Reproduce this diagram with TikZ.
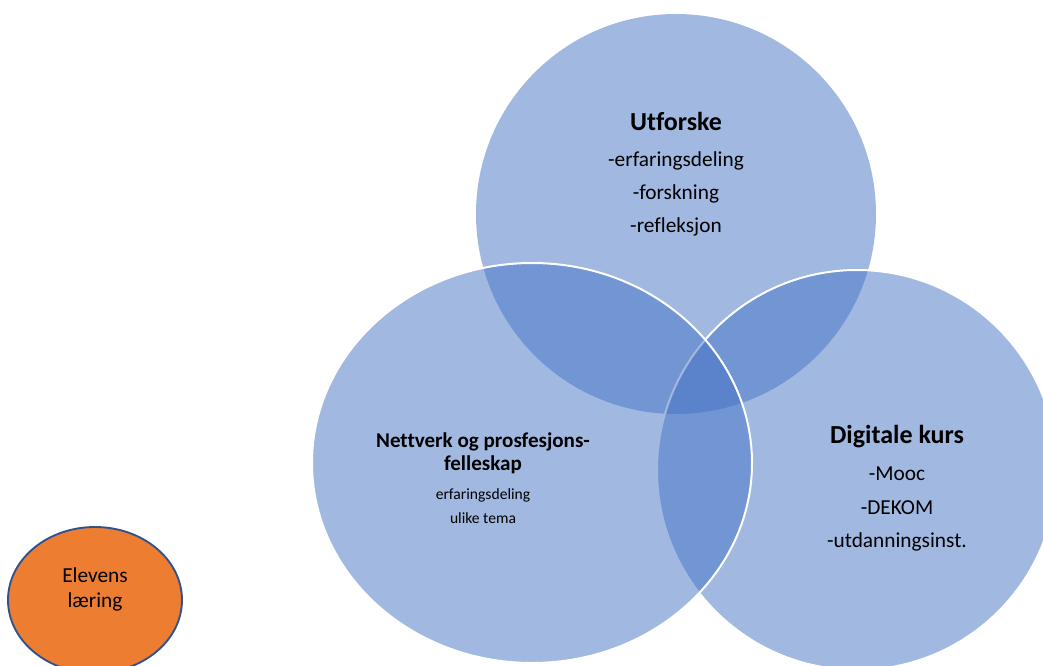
\documentclass[tikz,border=0pt]{standalone}
\usepackage{fontspec}
\setmainfont[Ligatures=NoCommon]{Carlito}
\usetikzlibrary{shapes.geometric}
\definecolor{vblue}{HTML}{4472C4}
\definecolor{vorange}{HTML}{ED7D31}
\definecolor{vedge}{HTML}{2F528F}
\begin{document}
\begin{tikzpicture}[x=0.75pt,y=-0.75pt,
  venn/.style={ellipse, inner sep=0pt, outer sep=0pt, fill=vblue, fill opacity=0.5, draw=white, line width=1.5pt},
  pupil/.style={ellipse, inner sep=0pt, outer sep=0pt, fill=vorange, draw=vedge, line width=1.4pt},
  txt/.style={anchor=base, inner sep=0pt, outer sep=0pt, text=black},
  bigtitle/.style={txt, font=\fontsize{19.5}{23}\selectfont\bfseries},
  midtitle/.style={txt, font=\fontsize{15.8}{19}\selectfont\bfseries},
  item/.style={txt, font=\fontsize{16}{19}\selectfont},
  smallitem/.style={txt, font=\fontsize{11.7}{14}\selectfont}]
\useasboundingbox (0,0) rectangle (1043,666);
\clip (0,0) rectangle (1043,666);
% circles
\node[venn, draw=none, minimum width=300pt, minimum height=300pt] (utf) at (676,214) {};
\node[venn, minimum width=300pt, minimum height=300pt] (dig) at (857,470) {};
\node[venn, minimum width=330pt, minimum height=300pt] (nett) at (532,463) {};
\node[pupil, minimum width=130.5pt, minimum height=109.5pt] (elev) at (95,600) {};
% top texts
\node[bigtitle] (t1) at (676,131) {Utforske};
\node[item] (t2) at (676,167) {-erfaringsdeling};
\node[item] (t3) at (676,200) {-forskning};
\node[item] (t4) at (676,233) {-refleksjon};
% left texts
\node[midtitle] (l1) at (483,448) {Nettverk og prosfesjons-};
\node[midtitle] (l2) at (483,471) {felleskap};
\node[smallitem] (l3) at (483,500) {erfaringsdeling};
\node[smallitem] (l4) at (483,524) {ulike tema};
% right texts
\node[bigtitle] (r1) at (897,444) {Digitale kurs};
\node[item] (r2) at (897,481) {-Mooc};
\node[item] (r3) at (897,514) {-DEKOM};
\node[item] (r4) at (897,547) {-utdanningsinst.};
% pupil texts
\node[item] (e1) at (95,582) {Elevens};
\node[item] (e2) at (95,607) {læring};
\end{tikzpicture}
\end{document}
